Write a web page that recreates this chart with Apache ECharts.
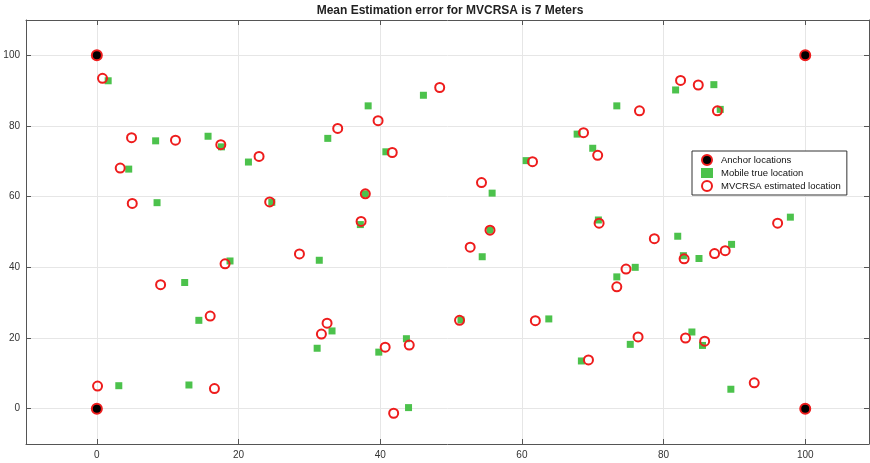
<!DOCTYPE html>
<html><head><meta charset="utf-8">
<script src="https://cdn.jsdelivr.net/npm/echarts@6/dist/echarts.min.js"></script>
<style>html,body{margin:0;padding:0;background:#fff}#c{width:870px;height:463px}</style>
</head><body><div id="c"></div>
<script>
const titleText = 'Mean Estimation error for MVCRSA is 7 Meters';
const seriesNames = ['Anchor locations', 'Mobile true location', 'MVCRSA estimated location'];
const xTicks = [0, 20, 40, 60, 80, 100];
const yTicks = [0, 20, 40, 60, 80, 100];
const anchorX = [0, 0, 100, 100];
const anchorY = [0, 100, 100, 0];
const trueX = [1.6, 8.3, 15.7, 17.6, 21.4, 4.5, 8.5, 24.7, 18.8, 12.4, 31.4, 14.4, 3.1, 13.0, 46.1, 38.3, 32.6, 40.8, 37.9, 37.2, 55.8, 55.5, 54.4, 60.6, 33.2, 31.1, 39.8, 43.7, 44.0, 51.4, 63.8, 67.8, 70.0, 81.7, 87.1, 73.4, 88.0, 70.8, 82.0, 82.8, 85.0, 89.6, 97.9, 76.0, 73.4, 68.4, 75.3, 84.0, 85.5, 89.5];
const trueY = [92.8, 75.8, 77.1, 74.1, 69.8, 67.8, 58.3, 58.4, 41.8, 35.7, 42.0, 25.0, 6.5, 6.7, 88.7, 85.7, 76.5, 72.7, 60.8, 52.1, 61.0, 50.5, 43.0, 70.2, 22.0, 17.1, 16.0, 19.8, 0.3, 25.1, 25.4, 77.7, 73.7, 90.2, 91.7, 85.7, 84.7, 53.4, 48.8, 43.3, 42.5, 46.5, 54.2, 40.0, 37.3, 13.5, 18.2, 21.7, 17.9, 5.5];
const estX = [0.8, 4.9, 11.1, 17.5, 22.9, 3.3, 5.0, 24.4, 18.1, 9.0, 28.6, 16.0, 0.1, 16.6, 48.4, 39.7, 34.0, 41.7, 37.9, 37.3, 54.3, 55.5, 52.7, 61.5, 32.5, 31.7, 40.7, 44.1, 41.9, 51.2, 61.9, 68.7, 70.7, 82.4, 84.9, 76.6, 87.6, 70.9, 78.7, 82.9, 87.2, 88.7, 96.1, 74.7, 73.4, 69.4, 76.4, 83.1, 85.8, 92.8];
const estY = [93.5, 76.7, 76.0, 74.7, 71.4, 68.1, 58.1, 58.5, 41.0, 35.1, 43.8, 26.2, 6.4, 5.7, 90.9, 81.5, 79.3, 72.5, 60.8, 53.0, 64.0, 50.5, 45.7, 69.9, 24.2, 21.1, 17.4, 18.0, -1.3, 25.0, 24.9, 78.1, 71.7, 92.9, 91.6, 84.3, 84.3, 52.5, 48.1, 42.4, 43.9, 44.7, 52.5, 39.5, 34.5, 13.8, 20.3, 20.0, 19.1, 7.3];

const zip = (a, b) => a.map((v, i) => [v, b[i]]);
const axisCol = '#555';
const font = 'Helvetica, Arial, "Liberation Sans", sans-serif';
const chart = echarts.init(document.getElementById('c'));
const xLabel = v => xTicks.includes(v) ? String(v) : '';
const yLabel = v => yTicks.includes(v) ? String(v) : '';
const line = { show: true, onZero: false, lineStyle: { color: axisCol, width: 1 } };
chart.setOption({
  animation: false,
  backgroundColor: '#fff',
  title: { text: titleText, left: 445, top: 0, textAlign: 'center',
    textStyle: { fontSize: 12, fontWeight: 'bold', color: '#222', fontFamily: font } },
  grid: { left: 26, width: 843, top: 20, height: 424, containLabel: false },
  xAxis: [
    { type: 'value', min: -10, max: 109, interval: 10, position: 'bottom',
      axisLine: line,
      axisTick: { show: true, inside: true, length: 5, lineStyle: { color: axisCol }, customValues: xTicks },
      axisLabel: { margin: 6, fontSize: 10, color: '#333', fontFamily: font, formatter: xLabel, customValues: xTicks },
      splitLine: { show: true, lineStyle: { color: '#e6e6e6', width: 1 } } },
    { type: 'value', min: -10, max: 109, interval: 10, position: 'top',
      axisLine: line,
      axisTick: { show: true, inside: true, length: 5, lineStyle: { color: axisCol }, customValues: xTicks },
      axisLabel: { show: false }, splitLine: { show: false } }
  ],
  yAxis: [
    { type: 'value', min: -10, max: 110, interval: 10, position: 'left',
      axisLine: line,
      axisTick: { show: true, inside: true, length: 5, lineStyle: { color: axisCol }, customValues: yTicks },
      axisLabel: { margin: 6, fontSize: 10, color: '#333', fontFamily: font, formatter: yLabel, customValues: yTicks },
      splitLine: { show: true, lineStyle: { color: '#e6e6e6', width: 1 } } },
    { type: 'value', min: -10, max: 110, interval: 10, position: 'right',
      axisLine: line,
      axisTick: { show: true, inside: true, length: 5, lineStyle: { color: axisCol }, customValues: yTicks },
      axisLabel: { show: false }, splitLine: { show: false } }
  ],
  legend: {
    orient: 'vertical', left: 692, top: 151, padding: [3, 6, 3, 9],
    backgroundColor: '#fff', borderColor: '#333', borderWidth: 1, borderRadius: 0,
    itemGap: 2, itemWidth: 12, itemHeight: 10,
    textStyle: { fontSize: 9.5, color: '#111', fontFamily: font, padding: [0, 0, 0, 3] },
    data: [
      { name: seriesNames[0], icon: 'circle', itemStyle: { color: '#000', borderColor: '#ee1c1c', borderWidth: 2 } },
      { name: seriesNames[1], icon: 'rect' },
      { name: seriesNames[2], icon: 'circle', itemStyle: { color: '#fff', borderColor: '#ee1c1c', borderWidth: 2 } }
    ]
  },
  series: [
    { name: seriesNames[0], type: 'scatter', data: zip(anchorX, anchorY), symbol: 'circle', symbolSize: 10,
      itemStyle: { color: '#000', borderColor: '#ee1c1c', borderWidth: 2, opacity: 1 }, z: 2 },
    { name: seriesNames[1], type: 'scatter', data: zip(trueX, trueY), symbol: 'rect', symbolSize: 7,
      itemStyle: { color: '#4cc24c', opacity: 1 }, z: 3 },
    { name: seriesNames[2], type: 'scatter', data: zip(estX, estY), symbol: 'circle', symbolSize: 9,
      itemStyle: { color: 'rgba(0,0,0,0)', borderColor: '#ee1c1c', borderWidth: 2, opacity: 1 }, z: 4 }
  ]
});
</script></body></html>
